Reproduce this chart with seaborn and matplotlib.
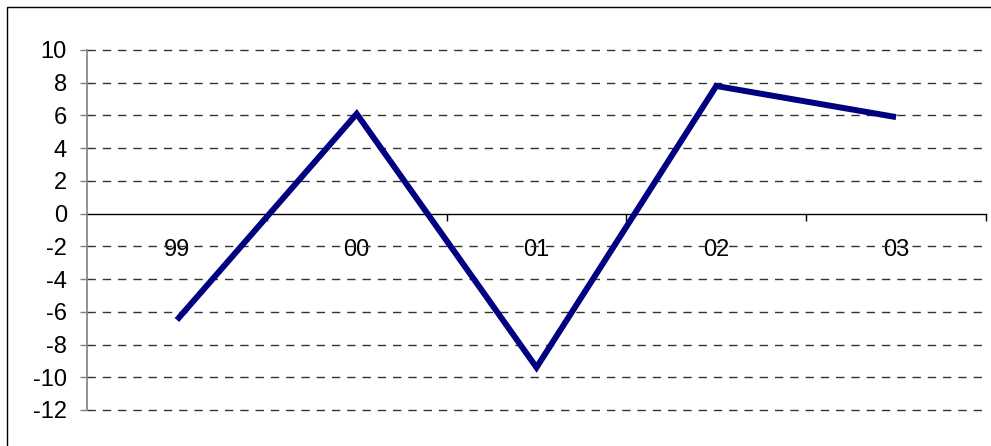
import matplotlib
matplotlib.use("Agg")
import matplotlib.pyplot as plt
import matplotlib.patches as mpatches
from matplotlib.ticker import FixedLocator
import seaborn as sns
import pandas as pd

years = ["99", "00", "01", "02", "03"]
values = [-6.5, 6.1, -9.4, 7.8, 5.9]
y_ticks = [10, 8, 6, 4, 2, 0, -2, -4, -6, -8, -10, -12]

sns.set_style("white")
plt.rcParams["font.family"] = ["Liberation Sans", "DejaVu Sans"]
plt.rcParams["text.color"] = "black"
plt.rcParams["xtick.color"] = "black"
plt.rcParams["ytick.color"] = "black"

W, H = 991, 446
fig = plt.figure(figsize=(W / 100, H / 100), dpi=100)
ax = fig.add_axes([87 / W, (H - 410) / H, (986 - 87) / W, (410 - 50) / H])

df = pd.DataFrame({"year": years, "value": values})
df["pos"] = range(len(years))

# dashed horizontal gridlines (the zero level is covered by the category axis)
for yv in y_ticks:
    if yv != 0:
        ax.axhline(yv, color="#333333", lw=1.0, ls=(0, (6, 5)), zorder=1,
                   clip_on=False)

sns.lineplot(data=df, x="pos", y="value", sort=False, color="#000080",
             linewidth=4.3, ax=ax, zorder=3,
             solid_capstyle="butt", solid_joinstyle="miter")

ax.set_xlim(-0.5, len(years) - 0.5)
ax.set_ylim(-12, 10)
ax.set_xlabel("")
ax.set_ylabel("")

ax.spines["top"].set_visible(False)
ax.spines["right"].set_visible(False)
ax.spines["left"].set_color("#808080")
ax.spines["left"].set_linewidth(1.2)
ax.spines["bottom"].set_position(("data", 0))
ax.spines["bottom"].set_color("black")
ax.spines["bottom"].set_linewidth(1.0)
ax.spines["bottom"].set_zorder(2)

ax.set_yticks(y_ticks)
ax.set_yticklabels([str(v) for v in y_ticks])
ax.tick_params(axis="y", direction="out", length=5, width=1, color="#808080",
               labelcolor="black", labelsize=17, pad=9.5, left=True)

ax.set_xticks(list(range(len(years))))
ax.set_xticklabels(years)
ax.tick_params(axis="x", which="major", length=0, labelsize=17, pad=18,
               labelcolor="black")
ax.xaxis.set_minor_locator(FixedLocator([i + 0.5 for i in range(len(years))]))
ax.tick_params(axis="x", which="minor", direction="out", length=5, width=1,
               color="black", bottom=True)

# outer chart frame
fig.patches.append(mpatches.Rectangle((7 / W, -0.05), 1.0, 1 - 7 / H + 0.05,
                                      transform=fig.transFigure, fill=False,
                                      edgecolor="black", lw=1.0))

fig.savefig("out.png", dpi=100)
